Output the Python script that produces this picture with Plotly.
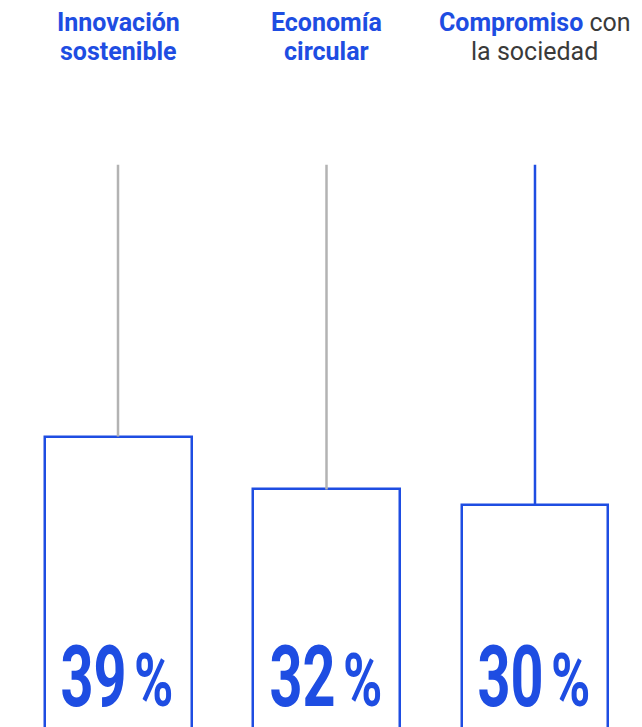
import plotly.graph_objects as go

categories = ["Innovación sostenible", "Economía circular", "Compromiso con la sociedad"]
values = [39, 32, 30]
stem_top = [75, 75, 75]
title_line1 = ["<b>Innovación</b>", "<b>Economía</b>", "<b>Compromiso</b><span style='color:#3a3a3a'> con</span>"]
title_line2 = ["<b>sostenible</b>", "<b>circular</b>", "<span style='color:#3a3a3a'>la sociedad</span>"]
stem_colors = ["#b3b3b3", "#b3b3b3", "#1E4DE2"]

BLUE = "#1E4DE2"
xs = list(range(len(categories)))

fig = go.Figure()
for i, (v, t, sc) in enumerate(zip(values, stem_top, stem_colors)):
    fig.add_trace(go.Scatter(x=[i, i], y=[v, t], mode="lines",
                             line=dict(color=sc, width=2.5), hoverinfo="skip", showlegend=False))
fig.add_trace(go.Bar(x=xs, y=values, width=0.705,
                     marker=dict(color="white", line=dict(color=BLUE, width=2.5)),
                     showlegend=False, hoverinfo="skip"))

for i, v in enumerate(values):
    # digits (condensed by script below, anchored at right edge)
    fig.add_annotation(x=i + 0.053, y=2.78, xref="x", yref="y", yanchor="bottom", xanchor="right",
                       text=f"<b>{v}</b>", showarrow=False, height=82, valign="top",
                       font=dict(family="Roboto, sans-serif", size=86, color=BLUE))
    # percent sign (condensed, anchored at left edge)
    fig.add_annotation(x=i + 0.069, y=2.78, xref="x", yref="y", yanchor="bottom", xanchor="left",
                       text="<b>%</b>", showarrow=False, height=71, valign="top",
                       font=dict(family="Roboto, sans-serif", size=74, color=BLUE))
    fig.add_annotation(x=i, y=1 - 14.5 / 727, xref="x", yref="paper", yanchor="middle", xanchor="center",
                       text=title_line1[i], showarrow=False,
                       font=dict(family="Roboto, Liberation Sans, sans-serif", size=25, color=BLUE))
    fig.add_annotation(x=i, y=1 - 43.5 / 727, xref="x", yref="paper", yanchor="middle", xanchor="center",
                       text=title_line2[i], showarrow=False,
                       font=dict(family="Roboto, Liberation Sans, sans-serif", size=25, color=BLUE))

fig.update_layout(
    width=642, height=727, margin=dict(l=0, r=0, t=0, b=0),
    paper_bgcolor="white", plot_bgcolor="white",
    xaxis=dict(range=[-0.5276, 2.5516], visible=False, showgrid=False, zeroline=False),
    yaxis=dict(range=[-0.53, 95.76], visible=False, showgrid=False, zeroline=False),
    bargap=0,
)

post = """
var gd = document.getElementById('{plot_id}');
function condense(){
  gd.querySelectorAll('text.annotation-text').forEach(function(t){
    var s = t.textContent.trim();
    var sx = null, right = false;
    if (s === '%') { sx = 0.72; right = false; }
    else if (/^[0-9]+$/.test(s)) { sx = 0.67; right = true; }
    if (sx === null) return;
    t.removeAttribute('transform');
    var b = t.getBBox();
    var cx = right ? (b.x + b.width) : b.x;
    var cy = b.y + b.height;
    t.setAttribute('transform', 'translate(' + cx + ',' + cy + ') scale(' + sx + ',1) translate(' + (-cx) + ',' + (-cy) + ')');
  });
}
condense();
if (document.fonts && document.fonts.ready) { document.fonts.ready.then(condense); }
"""
fig.write_html("out.html", post_script=post)
